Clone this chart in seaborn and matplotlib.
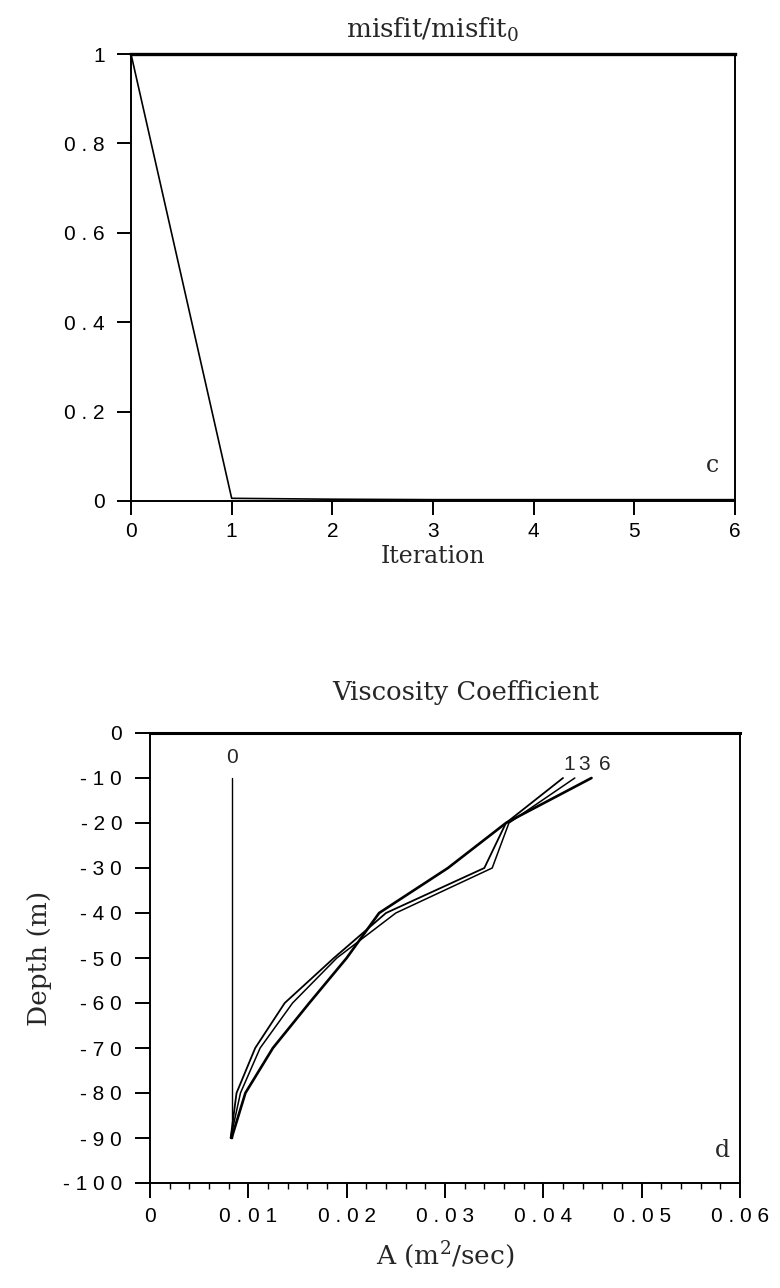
import matplotlib
matplotlib.use("Agg")
import matplotlib.pyplot as plt
import seaborn as sns
from matplotlib.ticker import MultipleLocator

# ---------------- data ----------------
iterations = [0, 1, 2, 3, 4, 5, 6]
misfit_ratio = [1.0, 0.006, 0.004, 0.003, 0.003, 0.003, 0.003]

depth = [-10, -20, -30, -40, -50, -60, -70, -80, -90]
A_iter0 = [0.0083, 0.0083, 0.0083, 0.0083, 0.0083, 0.0083, 0.0083, 0.0083, 0.0083]
A_iter1 = [0.0420, 0.0362, 0.0340, 0.0240, 0.0187, 0.0137, 0.0107, 0.0088, 0.0082]
A_iter3 = [0.0432, 0.0365, 0.0348, 0.0250, 0.0190, 0.0145, 0.0112, 0.0092, 0.0082]
A_iter6 = [0.0449, 0.0362, 0.0303, 0.0233, 0.0200, 0.0162, 0.0125, 0.0097, 0.0083]
iter_names = ["0", "1", "3", "6"]

top_xticks = [0, 1, 2, 3, 4, 5, 6]
top_xticklabels = ["0", "1", "2", "3", "4", "5", "6"]
top_yticks = [0, 0.2, 0.4, 0.6, 0.8, 1.0]
top_yticklabels = ["0", "0 . 2", "0 . 4", "0 . 6", "0 . 8", "1"]
bot_xticks = [0, 0.01, 0.02, 0.03, 0.04, 0.05, 0.06]
bot_xticklabels = ["0", "0 . 0 1", "0 . 0 2", "0 . 0 3", "0 . 0 4", "0 . 0 5", "0 . 0 6"]
bot_yticks = [0, -10, -20, -30, -40, -50, -60, -70, -80, -90, -100]
bot_yticklabels = ["0", "- 1 0", "- 2 0", "- 3 0", "- 4 0", "- 5 0",
                   "- 6 0", "- 7 0", "- 8 0", "- 9 0", "- 1 0 0"]

# ---------------- style ----------------
sns.set_style("ticks")
plt.rcParams["font.family"] = ["Liberation Sans", "DejaVu Sans"]
plt.rcParams["mathtext.fontset"] = "dejavuserif"
SERIF = ["DejaVu Serif"]
TICKFS = 15

fig = plt.figure(figsize=(7.8, 12.88), dpi=100)

# ---------------- top panel ----------------
ax1 = fig.add_axes([131 / 780, 1 - 501 / 1288, 604 / 780, 447 / 1288])
sns.lineplot(x=iterations, y=misfit_ratio, ax=ax1, color="black", lw=1.2,
             sort=False, estimator=None, clip_on=False)
ax1.set_xlim(0, 6)
ax1.set_ylim(0, 1)
ax1.set_xticks(top_xticks)
ax1.set_xticklabels(top_xticklabels)
ax1.set_yticks(top_yticks)
ax1.set_yticklabels(top_yticklabels)
ax1.tick_params(axis="both", direction="out", length=10, width=1.4,
                labelsize=TICKFS, colors="black")
ax1.tick_params(axis="x", pad=5)
ax1.tick_params(axis="y", pad=9)
for s in ["left", "bottom", "right"]:
    ax1.spines[s].set_linewidth(1.4)
    ax1.spines[s].set_color("black")
ax1.spines["top"].set_linewidth(2.4)
ax1.spines["top"].set_color("black")
ax1.set_title(r"misfit/misfit$_0$", family=SERIF, fontsize=19, pad=12)
ax1.set_xlabel("Iteration", family=SERIF, fontsize=17, labelpad=3)
ax1.text(0.962, 0.08, "c", transform=ax1.transAxes, family=SERIF,
         fontsize=17, ha="center", va="center")

# ---------------- bottom panel ----------------
ax2 = fig.add_axes([150 / 780, 1 - 1183 / 1288, 590 / 780, 450 / 1288])
series = [A_iter0, A_iter1, A_iter3, A_iter6]
widths = [1.0, 1.3, 1.1, 1.9]
for vals, lw in zip(series, widths):
    sns.lineplot(x=vals, y=depth, ax=ax2, color="black", lw=lw,
                 sort=False, estimator=None)
ax2.set_xlim(0, 0.06)
ax2.set_ylim(-100, 0)
ax2.set_xticks(bot_xticks)
ax2.set_xticklabels(bot_xticklabels)
ax2.set_yticks(bot_yticks)
ax2.set_yticklabels(bot_yticklabels)
ax2.xaxis.set_minor_locator(MultipleLocator(0.002))
ax2.tick_params(axis="both", which="major", direction="out", length=11,
                width=1.4, labelsize=TICKFS, colors="black")
ax2.tick_params(axis="x", which="major", pad=6)
ax2.tick_params(axis="y", which="major", pad=9)
ax2.tick_params(axis="x", which="minor", direction="out", length=4,
                width=1.0, colors="black")
for s in ["left", "bottom", "right", "top"]:
    ax2.spines[s].set_linewidth(1.4)
    ax2.spines[s].set_color("black")
ax2.spines["top"].set_linewidth(2.2)
ax2.text(0.535, 1.089, "Viscosity Coefficient", transform=ax2.transAxes,
         family=SERIF, fontsize=18.5, ha="center", va="center")
ax2.set_ylabel("Depth (m)", family=SERIF, fontsize=19, labelpad=8)
ax2.set_xlabel(r"A (m$^2$/sec)", family=SERIF, fontsize=19, labelpad=10)
ax2.text(0.97, 0.073, "d", transform=ax2.transAxes, family=SERIF,
         fontsize=17, ha="center", va="center")

# iteration labels at the top of each profile
ax2.text(A_iter0[0], depth[0] + 4.5, iter_names[0], fontsize=TICKFS,
         ha="center", va="center")
ax2.text(A_iter1[0] + 0.0006, depth[0] + 3, iter_names[1], fontsize=TICKFS,
         ha="center", va="center")
ax2.text(A_iter3[0] + 0.0009, depth[0] + 3, iter_names[2], fontsize=TICKFS,
         ha="center", va="center")
ax2.text(A_iter6[0] + 0.0014, depth[0] + 3, iter_names[3], fontsize=TICKFS,
         ha="center", va="center")

fig.savefig("out.png", dpi=100)
